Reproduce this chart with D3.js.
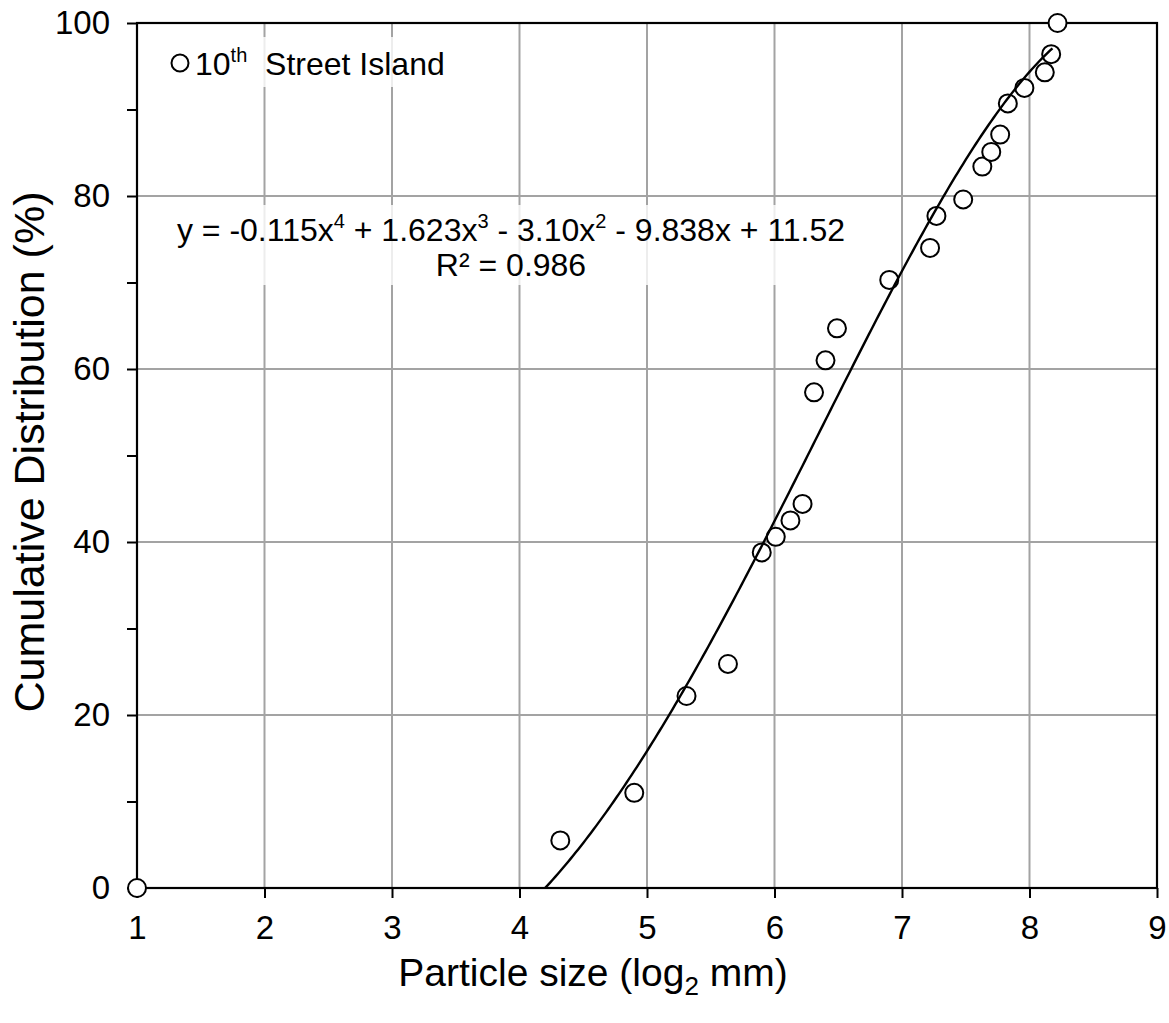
<!DOCTYPE html>
<html>
<head>
<meta charset="utf-8">
<script src="https://cdn.jsdelivr.net/npm/d3@7"></script>
<style>
  html, body { margin: 0; padding: 0; background: #fff; }
  svg text { font-family: "Liberation Sans", Arial, Helvetica, sans-serif; fill: #000; }
</style>
</head>
<body>
<svg id="chart" width="1169" height="1023"></svg>
<script>
// Particle size (log2 mm) of each sample
const sizeLog2 = [1.00, 4.32, 4.90, 5.31, 5.635, 5.90, 6.01, 6.125, 6.22, 6.31, 6.40, 6.49,
                  6.90, 7.22, 7.27, 7.48, 7.63, 7.70, 7.77, 7.83, 7.96, 8.12, 8.17, 8.22];
// Cumulative distribution (%) at each size
const cumulative = [0.0, 5.5, 11.0, 22.2, 25.9, 38.8, 40.6, 42.5, 44.4, 57.3, 61.0, 64.7,
                    70.3, 74.0, 77.7, 79.6, 83.4, 85.1, 87.1, 90.7, 92.5, 94.3, 96.4, 100.0];

// Fitted polynomial, highest power first: -0.115x^4 + 1.623x^3 - 3.10x^2 - 9.838x + 11.52
const fitCoefficients = [-0.115, 1.623, -3.10, -9.838, 11.52];
const fitRange = [4.2, 8.18];

const xTicks = [1, 2, 3, 4, 5, 6, 7, 8, 9];
const yTicks = [0, 20, 40, 60, 80, 100];
const yMinorTicks = [10, 30, 50, 70, 90];

const seriesName = "Street Island";

const svg = d3.select("#chart");
const plot = { left: 137, top: 23, right: 1157, bottom: 888 };

const x = d3.scaleLinear().domain([1, 9]).range([plot.left, plot.right]);
const y = d3.scaleLinear().domain([0, 100]).range([plot.bottom, plot.top]);

const gridColor = "#a3a3a3";

// Grid lines
const grid = svg.append("g");
grid.selectAll("line.gx")
  .data(xTicks.filter(d => d > 1 && d < 9))
  .join("line")
  .attr("x1", d => x(d)).attr("x2", d => x(d))
  .attr("y1", plot.top).attr("y2", plot.bottom)
  .attr("stroke", gridColor).attr("stroke-width", 2);
grid.selectAll("line.gy")
  .data(yTicks.filter(d => d > 0 && d < 100))
  .join("line")
  .attr("x1", plot.left).attr("x2", plot.right)
  .attr("y1", d => y(d)).attr("y2", d => y(d))
  .attr("stroke", gridColor).attr("stroke-width", 2);

// Label backgrounds softening the grid behind the text
svg.append("rect").attr("x", 165).attr("y", 37).attr("width", 295).attr("height", 50)
  .attr("fill", "#fff").attr("opacity", 0.8);
svg.append("rect").attr("x", 166).attr("y", 205).attr("width", 690).attr("height", 80)
  .attr("fill", "#fff").attr("opacity", 0.8);

// Axes
const xAxis = d3.axisBottom(x).tickValues(xTicks).tickSize(10).tickSizeOuter(0).tickPadding(16);
const gx = svg.append("g").attr("transform", `translate(0,${plot.bottom})`).call(xAxis);
gx.select(".domain").remove();
gx.selectAll(".tick line").attr("stroke", "#000").attr("stroke-width", 2);
gx.selectAll(".tick text").attr("font-size", 33).attr("dy", "0.75em");

const yAxis = d3.axisLeft(y).tickValues(yTicks).tickSize(10).tickSizeOuter(0).tickPadding(17);
const gy = svg.append("g").attr("transform", `translate(${plot.left},0)`).call(yAxis);
gy.select(".domain").remove();
gy.selectAll(".tick line").attr("stroke", "#000").attr("stroke-width", 2);
gy.selectAll(".tick text").attr("font-size", 33);

const yMinor = d3.axisLeft(y).tickValues(yMinorTicks).tickSize(10).tickFormat("");
const gym = svg.append("g").attr("transform", `translate(${plot.left},0)`).call(yMinor);
gym.select(".domain").remove();
gym.selectAll(".tick line").attr("stroke", "#000").attr("stroke-width", 2);

// Plot frame
svg.append("rect")
  .attr("x", plot.left).attr("y", plot.top)
  .attr("width", plot.right - plot.left).attr("height", plot.bottom - plot.top)
  .attr("fill", "none").attr("stroke", "#000").attr("stroke-width", 2.2);

// Data points
const points = sizeLog2.map((s, i) => ({ s, c: cumulative[i] }));
svg.append("g").selectAll("circle")
  .data(points)
  .join("circle")
  .attr("cx", d => x(d.s)).attr("cy", d => y(d.c)).attr("r", 9)
  .attr("fill", "#fff").attr("stroke", "#000").attr("stroke-width", 2);

// Polynomial trend line
const poly = v => fitCoefficients.reduce((acc, k) => acc * v + k, 0);
const fitX = d3.range(fitRange[0], fitRange[1] + 1e-9, 0.02);
const fitPts = fitX.map(v => [v, Math.max(0, poly(v))]);
svg.append("path")
  .datum(fitPts)
  .attr("d", d3.line().x(d => x(d[0])).y(d => y(d[1])))
  .attr("fill", "none").attr("stroke", "#000").attr("stroke-width", 2.4);

// Legend
svg.append("circle").attr("cx", 180).attr("cy", 63).attr("r", 8.5)
  .attr("fill", "#fff").attr("stroke", "#000").attr("stroke-width", 2);
const legendText = svg.append("text").attr("x", 195).attr("y", 75).attr("font-size", 32);
legendText.append("tspan").text("10");
legendText.append("tspan").attr("font-size", 20).attr("dy", -13).text("th");
legendText.append("tspan").attr("dy", 13).attr("xml:space", "preserve").text("  " + seriesName);

// Trend line equation
const eq = svg.append("text").attr("x", 511).attr("y", 241).attr("font-size", 32)
  .attr("text-anchor", "middle");
const supDy = -13;
const parts = [
  ["y = -0.115x", null], ["4", "sup"], [" + 1.623x", null], ["3", "sup"],
  [" - 3.10x", null], ["2", "sup"], [" - 9.838x + 11.52", null]
];
parts.forEach(([t, kind], i) => {
  const ts = eq.append("tspan").attr("xml:space", "preserve").text(t);
  if (kind === "sup") ts.attr("font-size", 20).attr("dy", supDy);
  else if (i > 0) ts.attr("dy", -supDy);
});
svg.append("text").attr("x", 511).attr("y", 276).attr("font-size", 32)
  .attr("text-anchor", "middle").text("R² = 0.986");

// Axis titles
const xt = svg.append("text").attr("x", 593).attr("y", 986).attr("font-size", 39)
  .attr("text-anchor", "middle");
xt.append("tspan").text("Particle size (log");
xt.append("tspan").attr("font-size", 26).attr("dy", 9).text("2");
xt.append("tspan").attr("dy", -9).attr("xml:space", "preserve").text(" mm)");

svg.append("text")
  .attr("transform", "translate(44,452) rotate(-90)")
  .attr("font-size", 43).attr("text-anchor", "middle")
  .text("Cumulative Distribution (%)");
</script>
</body>
</html>
